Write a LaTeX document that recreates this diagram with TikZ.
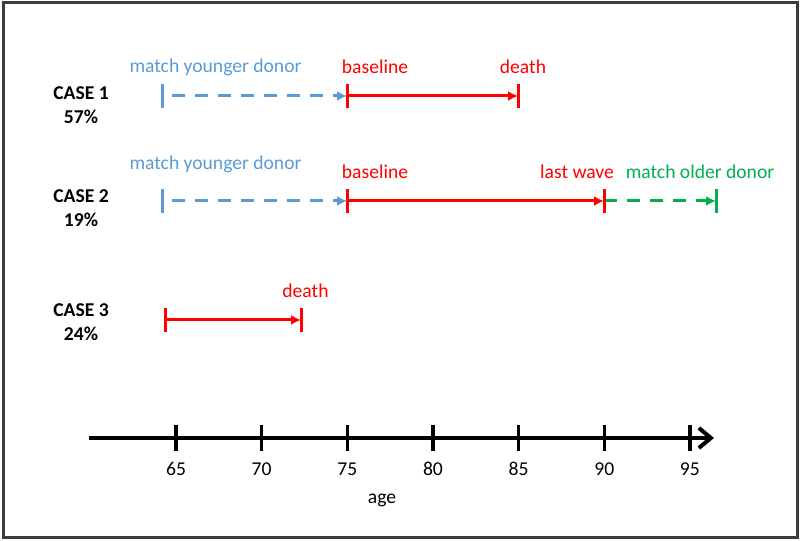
\documentclass[tikz,border=0pt]{standalone}
\usepackage{fontspec}
\setmainfont{Carlito}
\usepackage{xcolor}
\definecolor{tlblue}{RGB}{91,155,213}
\definecolor{tlred}{RGB}{255,0,0}
\definecolor{tlgreen}{RGB}{0,176,80}
\definecolor{tlframe}{RGB}{60,60,60}
\usetikzlibrary{arrows.meta, positioning, calc}

\tikzset{
  lbl/.style={font=\fontsize{9.8}{12}\selectfont, inner sep=0pt},
  caselbl/.style={lbl, font=\fontsize{9.8}{12}\selectfont\bfseries, align=center},
  evtick/.style={line width=1.5pt},
  redline/.style={draw=tlred, line width=1.5pt, -{Latex[length=5pt,width=5pt]}},
  bluedash/.style={draw=tlblue, line width=1.5pt, dash pattern=on 6.5pt off 5pt,
                   dash phase=6.5pt, -{Latex[length=5pt,width=5pt]}},
  greendash/.style={draw=tlgreen, line width=1.5pt, dash pattern=on 6.5pt off 5pt,
                    -{Latex[length=5pt,width=5pt]}},
  axisline/.style={line width=2pt, -{Straight Barb[length=6pt,width=10pt,line width=2pt]}},
}

\begin{document}
\begin{tikzpicture}[x=0.5pt, y=0.5pt]
\useasboundingbox (0,0) rectangle (800,541);
\draw[tlframe, line width=1.5pt] (3,3) rectangle (797,538);

% event points
\coordinate (y1) at (162,445);
\coordinate (b1) at (347,445);
\coordinate (d1) at (518,445);
\coordinate (y2) at (162,340);
\coordinate (b2) at (347,340);
\coordinate (w2) at (604,340);
\coordinate (o2) at (716,340);
\coordinate (s3) at (165,221);
\coordinate (d3) at (301,221);

% cases
\node[caselbl] (case1) at (81,436) {CASE 1\\57\%};
\node[caselbl] (case2) at (81,332.5) {CASE 2\\19\%};
\node[caselbl] (case3) at (81,218.5) {CASE 3\\24\%};

% timelines
\draw[bluedash] (y1) -- (b1);
\draw[redline] (b1) -- (d1);
\draw[bluedash] (y2) -- (b2);
\draw[redline] (b2) -- (w2);
\draw[greendash] (w2) -- (o2);
\draw[redline] (s3) -- (d3);

\foreach \p/\c in {y1/tlblue, b1/tlred, d1/tlred, y2/tlblue, b2/tlred,
                   w2/tlred, o2/tlgreen, s3/tlred, d3/tlred}
  \draw[evtick, \c] (\p) ++(0,-12) -- ++(0,24);

% labels
\node[lbl, text=tlblue] (younger1) at (215.5,474) {match younger donor};
\node[lbl, text=tlred] (base1) at (375,474) {baseline};
\node[lbl, text=tlred] (death1) at (523,474) {death};
\node[lbl, text=tlblue] (younger2) at (215.5,377) {match younger donor};
\node[lbl, text=tlred] (base2) at (375,369) {baseline};
\node[lbl, text=tlred] (wave2) at (577,369) {last wave};
\node[lbl, text=tlgreen] (older2) at (700,369) {match older donor};
\node[lbl, text=tlred] (death3) at (305.5,250) {death};

% age axis
\coordinate (axstart) at (89,103);
\coordinate (axend) at (714,103);
\draw[axisline] (axstart) -- (axend);
\foreach \a in {65,70,...,95} {
  \pgfmathsetmacro{\ax}{176+(\a-65)*17.13}
  \draw[line width=1.75pt] (\ax,90) -- (\ax,116);
  \node[lbl] (t\a) at (\ax,72) {\a};
}
\node[lbl] (agelbl) at (382,41) {age};
\end{tikzpicture}
\end{document}
